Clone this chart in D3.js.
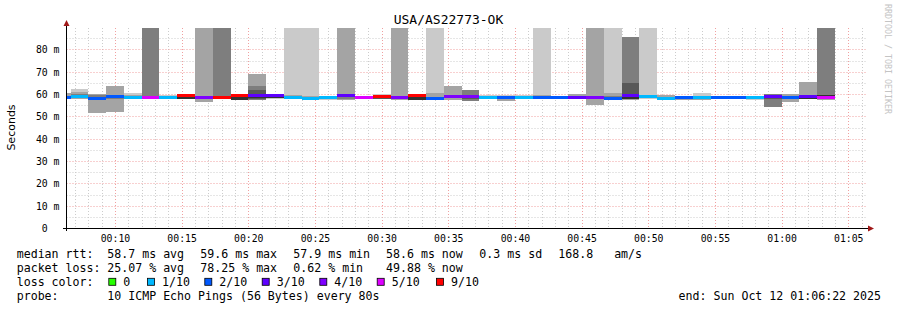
<!DOCTYPE html>
<html>
<head>
<meta charset="utf-8">
<script src="https://cdn.jsdelivr.net/npm/d3@7"></script>
<style>
  body { margin: 0; background: #fff; }
  svg { display: block; }
  text { font-family: "DejaVu Sans Mono", monospace; fill: #000; }
</style>
</head>
<body>
<svg id="chart" width="897" height="310"></svg>
<script>
const INF = Infinity;   // ping above the top of the graph

const title = "USA/AS22773-OK";
const windowStart = "00:06:22", windowEnd = "01:06:22";
const stepSeconds = 80;

// end of each 80s step
const stepEnds = [
  "00:06:40","00:08:00","00:09:20","00:10:40","00:12:00","00:13:20","00:14:40","00:16:00",
  "00:17:20","00:18:40","00:20:00","00:21:20","00:22:40","00:24:00","00:25:20","00:26:40",
  "00:28:00","00:29:20","00:30:40","00:32:00","00:33:20","00:34:40","00:36:00","00:37:20",
  "00:38:40","00:40:00","00:41:20","00:42:40","00:44:00","00:45:20","00:46:40","00:48:00",
  "00:49:20","00:50:40","00:52:00","00:53:20","00:54:40","00:56:00","00:57:20","00:58:40",
  "01:00:00","01:01:20","01:02:40","01:04:00"
];

// median rtt (ms)
const medians = [
  58.4, 58.9, 58.0, 58.8, 58.6, 58.3, 58.6, 59.4, 58.4, 58.5, 59.3, 59.3, 59.2, 58.5, 58.1,
  58.3, 59.2, 58.5, 58.8, 58.5, 59.3, 58.1, 58.8, 58.8, 58.5, 58.6, 58.3, 58.6, 58.4, 58.4,
  58.6, 57.9, 59.2, 58.8, 58.1, 58.4, 58.4, 58.6, 58.4, 58.4, 58.8, 58.5, 59.1, 58.4
];

// lost pings out of 10
const lost = [
  2, 1, 2, 2, 1, 5, 1, 9, 4, 9, 9, 3, 3, 1, 1, 1, 3, 5, 9, 4, 9, 2,
  4, 4, 1, 2, 1, 2, 2, 3, 4, 2, 3, 1, 1, 2, 1, 2, 2, 1, 3, 2, 3, 5
];

// sorted ping rtts (ms) per step, drawn as smoke
const pings = [
  [57.6,57.8,58.0,58.2,58.3,58.5,58.7,59.0,60.3,60.6],
  [57.6,57.8,58.1,58.4,58.7,59.0,59.4,59.9,61.0,62.2],
  [51.6,51.6,57.4,57.6,57.8,58.1,58.4,59.6,60.1,60.1],
  [52.1,52.1,58.0,58.3,58.6,59.0,59.3,59.6,63.6,63.6],
  [57.8,58.0,58.2,58.4,58.5,58.7,58.9,59.2,59.6,60.3],
  [57.6,57.8,58.0,58.1,58.2,58.4,58.7,INF,INF,INF],
  [58.0,58.1,58.3,58.4,58.5,58.7,58.8,59.0,59.3,59.6],
  [57.7,57.7,57.8,57.8,57.8,59.2,59.3,59.3,59.4,59.4],
  [56.6,56.6,57.8,58.0,58.2,58.5,58.8,59.2,INF,INF],
  [57.6,57.8,58.0,58.2,58.3,58.6,58.8,INF,INF,INF],
  [57.2,57.2,57.3,57.3,57.3,59.1,59.2,59.3,59.4,59.5],
  [57.3,57.3,57.5,57.8,58.3,59.6,61.8,63.6,69.0,69.0],
  [58.0,58.1,58.2,58.3,58.4,59.0,59.2,59.3,59.4,59.5],
  [57.8,58.0,58.1,58.3,58.4,58.6,58.8,59.0,59.5,INF],
  [57.2,57.5,57.7,57.9,58.0,58.2,58.4,58.6,59.0,INF],
  [57.5,57.7,57.9,58.1,58.2,58.4,58.6,58.8,59.0,59.2],
  [57.3,57.3,58.0,58.5,58.9,59.4,59.6,59.8,INF,INF],
  [58.2,58.3,58.3,58.4,58.4,58.6,58.6,58.7,58.7,58.8],
  [57.8,57.9,58.0,58.0,58.1,58.9,59.0,59.2,59.4,59.9],
  [57.3,57.3,58.0,58.2,58.3,58.6,58.8,59.0,INF,INF],
  [57.2,57.2,57.3,57.3,57.3,58.9,59.0,59.1,59.2,59.3],
  [57.4,57.5,57.7,57.8,57.9,58.2,58.4,58.6,60.6,INF],
  [57.3,57.3,58.2,58.4,58.6,58.9,59.1,59.4,63.6,63.6],
  [56.9,56.9,56.9,58.0,58.4,59.0,59.3,61.8,61.8,61.8],
  [58.0,58.1,58.2,58.3,58.4,58.6,58.7,58.9,59.2,59.8],
  [57.0,57.0,57.6,58.0,58.3,58.7,58.9,59.0,59.2,59.4],
  [57.8,57.9,58.0,58.1,58.2,58.4,58.6,58.8,59.2,59.4],
  [57.9,58.0,58.2,58.3,58.5,58.7,58.9,59.1,59.6,INF],
  [57.6,57.7,57.9,58.0,58.2,58.5,58.7,58.9,59.0,59.1],
  [57.6,57.6,57.9,58.1,58.2,58.5,58.7,58.9,60.0,60.0],
  [55.1,55.1,57.9,58.1,58.3,58.7,59.0,59.3,INF,INF],
  [57.4,57.5,57.6,57.7,57.8,58.0,58.2,59.3,60.6,INF],
  [57.5,57.5,57.6,57.8,58.0,59.0,65.0,85.5,85.5,85.5],
  [58.0,58.1,58.3,58.5,58.7,58.9,59.1,59.3,59.6,INF],
  [57.4,57.4,57.7,57.9,58.0,58.2,58.4,58.7,59.5,59.5],
  [57.3,57.4,57.6,57.9,58.2,58.5,58.7,58.8,59.0,59.1],
  [57.3,57.5,57.7,58.0,58.2,58.5,58.7,58.9,59.2,60.3],
  [58.0,58.1,58.3,58.4,58.5,58.7,58.8,58.9,59.0,59.1],
  [57.8,57.9,58.0,58.2,58.3,58.5,58.6,58.8,58.9,59.0],
  [57.5,57.6,57.8,58.0,58.2,58.5,58.7,58.8,58.9,59.0],
  [54.3,54.3,54.3,58.0,58.4,59.0,59.3,59.9,59.9,59.9],
  [56.6,56.6,57.8,58.0,58.3,58.6,58.8,59.1,60.0,60.0],
  [57.7,57.7,57.8,57.9,58.0,59.2,59.4,59.6,65.5,65.5],
  [57.3,57.4,57.6,58.0,58.2,59.6,59.8,INF,INF,INF]
];

const lossThresholds = [0, 1, 2, 3, 4, 5, 9];
const lossLabels = ["0", "1/10", "2/10", "3/10", "4/10", "5/10", "9/10"];
const lossColors = ["#26ff00", "#00b8ff", "#0059ff", "#5e00ff", "#7e00ff", "#dd00ff", "#ff0000"];
const smokeGrays = ["#cacaca", "#a4a4a4", "#7e7e7e", "#585858", "#323232"];

const yMax = 89.6;
const yLabelTicks = [0, 10, 20, 30, 40, 50, 60, 70, 80];

const rttStats = ["58.7 ms avg", "59.6 ms max", "57.9 ms min", "58.6 ms now", "0.3 ms sd", "168.8   am/s"];
const lossStats = ["25.07 % avg", "78.25 % max", "0.62 % min", "49.88 % now"];
const probeText = "10 ICMP Echo Pings (56 Bytes) every 80s";
const endText = "end: Sun Oct 12 01:06:22 2025";

// ---------------------------------------------------------------
const parseT = s => {
  const [h, m, sec] = s.split(":").map(Number);
  return new Date(Date.UTC(2025, 9, 12, h, m, sec));
};

const svg = d3.select("#chart");
const plotLeft = 66.5, plotRight = 866.5, plotTop = 28, plotBottom = 228;

const x = d3.scaleUtc()
  .domain([parseT(windowStart), parseT(windowEnd)])
  .range([plotLeft, plotRight]);

const y = d3.scaleLinear()
  .domain([0, yMax])
  .range([plotBottom, plotTop])
  .clamp(true);

const lossColor = n => {
  let idx = 0;
  lossThresholds.forEach((t, i) => { if (n >= t) idx = i; });
  return lossColors[idx];
};

// grid
const grid = svg.append("g");
const minutes = d3.utcMinute.range(x.domain()[0], x.domain()[1]);
minutes.forEach(d => {
  const major = d.getUTCMinutes() % 5 === 0;
  grid.append("line")
    .attr("x1", Math.round(x(d)) + 0.5).attr("x2", Math.round(x(d)) + 0.5)
    .attr("y1", plotTop).attr("y2", plotBottom)
    .attr("stroke", major ? "#f0a0a0" : "#cccccc")
    .attr("stroke-dasharray", "1,2");
});
d3.range(5, yMax, 5).forEach(v => {
  const major = v % 10 === 0;
  grid.append("line")
    .attr("x1", plotLeft).attr("x2", plotRight)
    .attr("y1", Math.round(y(v)) + 0.5).attr("y2", Math.round(y(v)) + 0.5)
    .attr("stroke", major ? "#f0a0a0" : "#cccccc")
    .attr("stroke-dasharray", "1,2");
});

// steps
const steps = stepEnds.map((e, i) => {
  const end = parseT(e);
  const start = new Date(Math.max(+end - stepSeconds * 1000, +x.domain()[0]));
  return { start, end, median: medians[i], lost: lost[i], pings: pings[i] };
});

// smoke: band k spans ping k .. ping (11-k)
const smoke = svg.append("g").attr("shape-rendering", "crispEdges");
steps.forEach(s => {
  smokeGrays.forEach((c, k) => {
    const lo = s.pings[k], hi = s.pings[9 - k];
    smoke.append("rect")
      .attr("x", x(s.start))
      .attr("width", x(s.end) - x(s.start))
      .attr("y", y(hi))
      .attr("height", Math.max(0, y(lo) - y(hi)))
      .attr("fill", c);
  });
});

// median bars coloured by loss
svg.append("g").attr("shape-rendering", "crispEdges")
  .selectAll("rect")
  .data(steps)
  .join("rect")
  .attr("x", d => x(d.start))
  .attr("width", d => x(d.end) - x(d.start))
  .attr("y", d => y(d.median) - 1.5)
  .attr("height", 3)
  .attr("fill", d => lossColor(d.lost));

// axes lines + arrows
svg.append("line")
  .attr("x1", 63).attr("x2", 869)
  .attr("y1", plotBottom + 0.5).attr("y2", plotBottom + 0.5)
  .attr("stroke", "#000");
svg.append("line")
  .attr("x1", plotLeft).attr("x2", plotLeft)
  .attr("y1", 231).attr("y2", 25)
  .attr("stroke", "#000");
svg.append("path")
  .attr("d", `M${plotLeft - 3},26 L${plotLeft + 3},26 L${plotLeft},20 Z`)
  .attr("fill", "#a01818");
svg.append("path")
  .attr("d", `M868,${plotBottom + 0.5 - 3} L868,${plotBottom + 0.5 + 3} L874,${plotBottom + 0.5} Z`)
  .attr("fill", "#a01818");

// x tick labels
const xAxis = svg.append("g")
  .attr("transform", `translate(0,${plotBottom})`)
  .call(d3.axisBottom(x)
    .ticks(d3.utcMinute.every(5))
    .tickFormat(d3.utcFormat("%H:%M"))
    .tickSize(0)
    .tickPadding(0));
xAxis.select(".domain").remove();
xAxis.selectAll("text")
  .attr("y", 13.5).attr("dy", null)
  .style("font-family", '"DejaVu Sans Mono", monospace')
  .style("font-size", "9.8px")
  .attr("fill", "#000");

// y tick labels
const yAxis = svg.append("g")
  .attr("transform", "translate(59.5,0)")
  .call(d3.axisLeft(y)
    .tickValues(yLabelTicks)
    .tickFormat(v => String(v).padStart(2) + " " + (v === 0 ? " " : "m"))
    .tickSize(0)
    .tickPadding(0));
yAxis.select(".domain").remove();
yAxis.selectAll("text")
  .attr("dy", "0.35em")
  .attr("xml:space", "preserve")
  .style("white-space", "pre")
  .style("font-family", '"DejaVu Sans Mono", monospace')
  .style("font-size", "9.8px")
  .attr("fill", "#000");

// title
svg.append("text")
  .attr("x", 448.5).attr("y", 24)
  .attr("text-anchor", "middle")
  .style("font-size", "13px")
  .text(title);

// y label
svg.append("text")
  .attr("transform", "translate(15,127.5) rotate(-90)")
  .attr("text-anchor", "middle")
  .style("font-family", '"DejaVu Sans", sans-serif')
  .style("font-size", "11px")
  .text("Seconds");

// watermark
svg.append("text")
  .attr("transform", "translate(884.5,4) rotate(90)")
  .style("font-size", "8.3px")
  .style("fill", "#c4c4c4")
  .text("RRDTOOL / TOBI OETIKER");

// legend
const cols = [16.7, 107.3, 200.3, 293.3, 386, 479.3, 558.3];
const rows = [258, 272, 286.3, 300.3];
const legend = svg.append("g").style("font-size", "11.6px");
const put = (xp, yp, t) => legend.append("text")
  .attr("x", xp).attr("y", yp)
  .attr("xml:space", "preserve")
  .style("white-space", "pre")
  .text(t);

put(cols[0], rows[0], "median rtt:");
rttStats.forEach((t, i) => put(cols[i + 1], rows[0], t));
put(cols[0], rows[1], "packet loss:");
lossStats.forEach((t, i) => put(cols[i + 1], rows[1], t));
put(cols[0], rows[2], "loss color:");
const boxX = [108.3, 147, 204.3, 261.7, 319.3, 376.7, 436];
lossLabels.forEach((t, i) => {
  legend.append("rect")
    .attr("x", boxX[i] + 0.5).attr("y", rows[2] - 8)
    .attr("width", 7).attr("height", 7)
    .attr("fill", lossColors[i])
    .attr("stroke", "#000").attr("stroke-width", 0.8);
  put(boxX[i] + 15, rows[2], t);
});
put(cols[0], rows[3], "probe:");
put(cols[1], rows[3], probeText);
legend.append("text")
  .attr("x", 881).attr("y", rows[3])
  .attr("text-anchor", "end")
  .text(endText);
</script>
</body>
</html>
